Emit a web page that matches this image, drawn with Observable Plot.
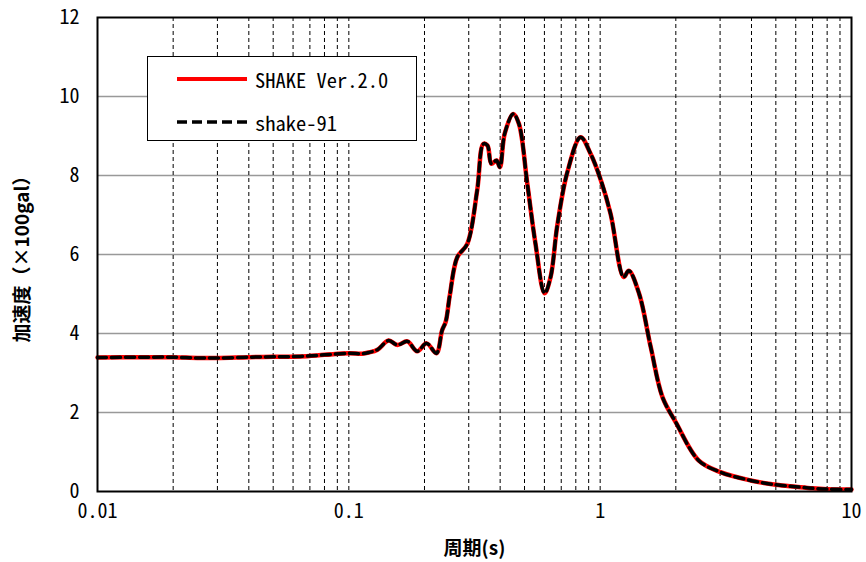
<!DOCTYPE html>
<html>
<head>
<meta charset="utf-8">
<script src="https://cdn.jsdelivr.net/npm/d3@7"></script>
<script src="https://cdn.jsdelivr.net/npm/@observablehq/plot@0.6"></script>
<style>
  html, body { margin: 0; padding: 0; background: #fff; }
  #wrap { position: relative; width: 866px; height: 562px; font-family: "Noto Sans CJK JP", "DejaVu Sans", sans-serif; }
  #wrap g[aria-label="y-axis tick label"] text, #wrap g[aria-label="x-axis tick label"] text {
    font-family: "Noto Sans Mono CJK JP", "DejaVu Sans Mono", monospace !important; font-size: 20px !important; font-variant: normal;
  }
  #legend { position: absolute; left: 147px; top: 56px; width: 270px; height: 85px; border: 1.5px solid #000; background: #fff; box-sizing: border-box; }
  .lg { position: absolute; left: 27px; display: flex; align-items: center; font-size: 20.5px; font-family: "Noto Sans Mono CJK JP", "DejaVu Sans Mono", monospace; }
  .lg svg { margin-right: 5px; }
</style>
</head>
<body>
<div id="wrap"></div>
<script>
// Period (s)
const periods = [0.01,0.015,0.02,0.025,0.03,0.04,0.05,0.064,0.08,0.1,0.113,0.12,0.13,0.144,0.156,0.171,0.187,0.204,0.223,0.235,0.243,0.252,0.27,0.296,0.324,0.343,0.356,0.369,0.387,0.399,0.417,0.451,0.475,0.513,0.553,0.601,0.635,0.675,0.74,0.836,0.916,1.004,1.10,1.24,1.30,1.43,1.59,1.77,2.0,2.47,3.01,3.97,5,6,7,8,10];
// Acceleration (x100 gal)
const shakeVer2 = [3.39,3.40,3.40,3.38,3.38,3.40,3.41,3.42,3.46,3.50,3.49,3.52,3.59,3.82,3.71,3.80,3.55,3.75,3.50,4.08,4.3,4.95,5.93,6.27,7.62,8.80,8.76,8.30,8.38,8.21,9.06,9.56,9.31,7.79,6.27,5.02,5.43,6.73,8.08,8.97,8.55,7.90,7.03,5.43,5.59,5.00,3.65,2.39,1.75,0.78,0.49,0.28,0.17,0.12,0.08,0.06,0.05];
const shake91 = [3.39,3.40,3.40,3.38,3.38,3.40,3.41,3.42,3.46,3.50,3.49,3.52,3.59,3.82,3.71,3.80,3.55,3.75,3.50,4.08,4.3,4.95,5.93,6.27,7.62,8.80,8.76,8.30,8.38,8.21,9.06,9.56,9.31,7.79,6.27,5.02,5.43,6.73,8.08,8.97,8.55,7.90,7.03,5.43,5.59,5.00,3.65,2.39,1.75,0.78,0.49,0.28,0.17,0.12,0.08,0.06,0.05];
const seriesNames = ["SHAKE Ver.2.0", "shake-91"];
const xTicks = [0.01, 0.1, 1, 10];
const xTickLabels = ["0.01", "0.1", "1", "10"];
const yTicks = [0, 2, 4, 6, 8, 10, 12];
const yGrid = [2, 4, 6, 8, 10];
const xMinor = [0.02,0.03,0.04,0.05,0.06,0.07,0.08,0.09,0.1,0.2,0.3,0.4,0.5,0.6,0.7,0.8,0.9,1,2,3,4,5,6,7,8,9];
const xLabel = "周期(s)";
const yLabel = "加速度（×100gal）";

const d1 = periods.map((t, i) => ({t, v: shakeVer2[i]}));
const d2 = periods.map((t, i) => ({t, v: shake91[i]}));

const chart = Plot.plot({
  width: 866,
  height: 562,
  marginLeft: 97,
  marginRight: 15,
  marginTop: 17,
  marginBottom: 71,
  style: {fontFamily: "'Noto Sans Mono CJK JP', 'DejaVu Sans Mono', monospace", fontSize: "20px", color: "#000"},
  x: {type: "log", domain: [0.01, 10]},
  y: {domain: [0, 12]},
  marks: [
    Plot.ruleY(yGrid, {stroke: "#999", strokeWidth: 1.5}),
    Plot.ruleX(xMinor, {stroke: "#000", strokeWidth: 1, strokeDasharray: "4,3"}),
    Plot.line(d1, {x: "t", y: "v", stroke: "#ff0000", strokeWidth: 4.5, curve: "catmull-rom"}),
    Plot.line(d2, {x: "t", y: "v", stroke: "#000", strokeWidth: 3.5, strokeDasharray: "9,5", curve: "catmull-rom"}),
    Plot.frame({stroke: "#000", strokeWidth: 2}),
    Plot.axisY({ticks: yTicks, tickSize: 0, tickPadding: 18, label: null, fontSize: 20}),
    Plot.axisX({ticks: xTicks, tickFormat: (d) => xTickLabels[xTicks.indexOf(d)], tickSize: 0, tickPadding: 12, label: null, fontSize: 20}),
    Plot.text([xLabel], {frameAnchor: "bottom", dy: 57, lineAnchor: "middle", fontWeight: "bold", fontSize: 19, fontFamily: "Noto Sans CJK JP"}),
    Plot.text([yLabel], {frameAnchor: "left", dx: -75, textAnchor: "middle", lineAnchor: "middle", rotate: -90, fontWeight: "bold", fontSize: 19, fontFamily: "Noto Sans CJK JP"})
  ]
});
const wrap = document.getElementById("wrap");
wrap.appendChild(chart);

const legend = document.createElement("div");
legend.id = "legend";
const styles = [
  {stroke: "#ff0000", width: 4, dash: null},
  {stroke: "#000", width: 3.5, dash: "10,5"}
];
seriesNames.forEach((name, i) => {
  const row = document.createElement("div");
  row.className = "lg";
  row.style.top = (i === 0 ? 7 : 50) + "px";
  const s = styles[i];
  row.innerHTML = `<svg width="75" height="20"><line x1="2" x2="72" y1="10" y2="10" stroke="${s.stroke}" stroke-width="${s.width}" ${s.dash ? `stroke-dasharray="${s.dash}"` : ""}/></svg><span>${name}</span>`;
  legend.appendChild(row);
});
wrap.appendChild(legend);
</script>
</body>
</html>
